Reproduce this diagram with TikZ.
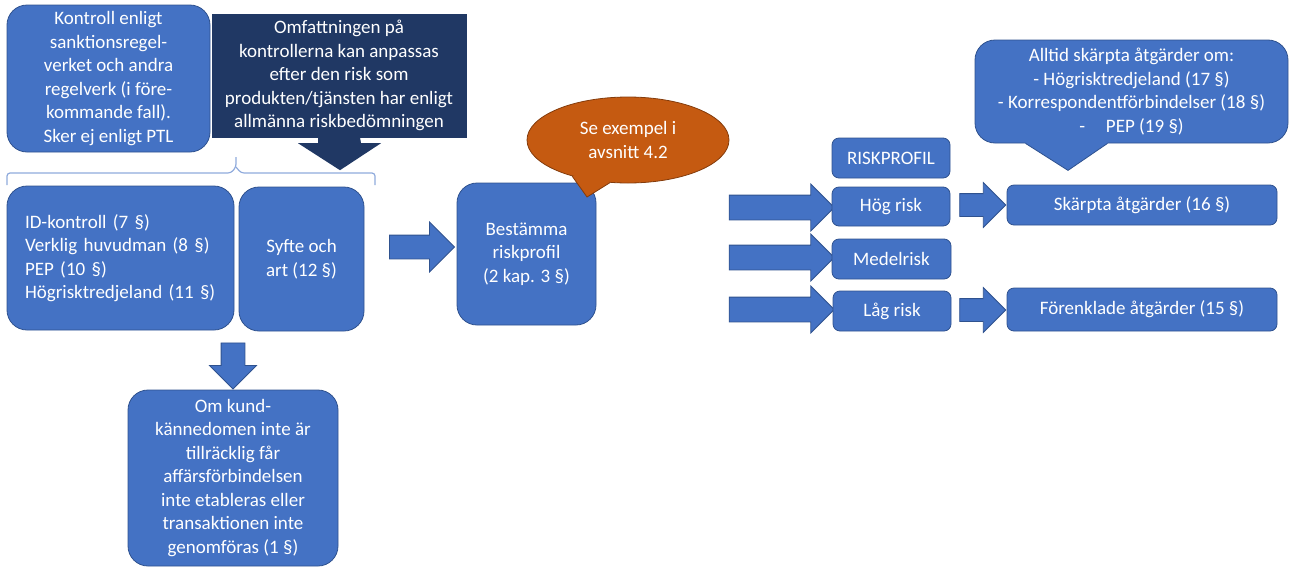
\documentclass[tikz,border=0pt]{standalone}
\usepackage{fontspec}
\setmainfont{Carlito}
\usetikzlibrary{shapes.geometric,shapes.arrows,calc}

\definecolor{boxblue}{HTML}{4472C4}
\definecolor{boxline}{HTML}{2F528F}
\definecolor{navy}{HTML}{203864}
\definecolor{rust}{HTML}{C55A11}
\definecolor{rustline}{HTML}{843C0C}
\definecolor{bracecol}{HTML}{8FAADC}

\tikzset{
  box/.style={draw=boxline, line width=0.8pt, fill=boxblue, text=white,
    rounded corners=20pt, align=center, inner sep=0pt},
  flatbox/.style={box, rounded corners=7pt},
  barrow/.style args={#1/#2/#3}{single arrow, draw=boxline, line width=0.8pt,
    fill=boxblue, inner xsep=0pt, single arrow head indent=0pt,
    minimum height=#1, inner ysep=#2, single arrow head extend=#3},
}

\begin{document}
\begin{tikzpicture}[x=1pt, y=-1pt, font=\fontsize{19}{23.5}\selectfont]
  \useasboundingbox (0,0) rectangle (1292,568);

  % left column
  \node[box, minimum width=203pt, minimum height=147pt] (kontroll) at (108.5,78.5)
    {Kontroll enligt\\sanktionsregel-\\verket och andra\\regelverk (i före-\\kommande fall).\\Sker ej enligt PTL};
  \node[draw=navy, fill=navy, text=white, align=center, inner sep=0pt,
    minimum width=254pt, minimum height=123pt] (omfatt) at (339,75.5)
    {Omfattningen på\\kontrollerna kan anpassas\\efter den risk som\\produkten/tjänsten har enligt\\allmänna riskbedömningen};
  \fill[navy] ([xshift=-21pt]omfatt.south) -- ++(0,6) -- ++(-20,0)
    -- ($(omfatt.south)+(1,33)$) -- ++(41,-27) -- ++(-20,0) -- ([xshift=21pt]omfatt.south) -- cycle;

  % brace
  \draw[bracecol, line width=1.2pt, rounded corners=3pt]
    (7,185) -- (7,173) -- (231,173) -- (236,167) -- (236,157);
  \draw[bracecol, line width=1.2pt, rounded corners=3pt]
    (375,185) -- (375,173) -- (241,173) -- (236,167);

  \node[box, align=left, text width=191pt, minimum width=227pt, minimum height=144pt] (idk) at (120.5,258)
    {ID-kontroll (7 §)\\Verklig huvudman (8 §)\\PEP (10 §)\\Högrisktredjeland (11 §)};
  \node[box, minimum width=125pt, minimum height=144pt] (syfte) at (301.5,259)
    {Syfte och\\art (12 §)};

  \node[barrow=46pt/11.5pt/11.5pt, rotate=-90] (tokund) at (233,360) {};
  \node[box, minimum width=210pt, minimum height=176pt] (kund) at (233,478)
    {Om kund-\\kännedomen inte är\\tillräcklig får\\affärsförbindelsen\\inte etableras eller\\transaktionen inte\\genomföras (1 §)};

  % riskprofil
  \node[barrow=65pt/11.5pt/13pt] (toprofil) at (416,247) {};
  \node[box, minimum width=139pt, minimum height=142pt] (bestam) at (526.5,254)
    {Bestämma\\riskprofil\\(2 kap. 3 §)};
  \node[ellipse, fill=rust, draw=rustline, line width=0.8pt, text=white, align=center,
    inner sep=0pt, minimum width=202pt, minimum height=86pt] (bubble) at (628,140)
    {Se exempel i\\avsnitt 4.2};
  \fill[rust] (bubble.213) -- (587,197) -- (bubble.247) -- ($(bubble.center)!0.8!(bubble.230)$) -- cycle;
  \draw[rustline, line width=0.8pt] (bubble.213) -- (587,197) -- (bubble.247);

  \node[barrow=105pt/12pt/11pt] (tohog) at (775.5,207.5) {};
  \node[barrow=105pt/12pt/11pt] (tomedel) at (775.5,257.5) {};
  \node[barrow=105pt/12pt/11pt] (tolag) at (775.5,309.5) {};

  \node[flatbox, minimum width=118pt, minimum height=40pt] (riskprofil) at (891,158) {RISKPROFIL};
  \node[flatbox, minimum width=118pt, minimum height=39pt] (hog) at (891,206.5) {Hög risk};
  \node[flatbox, minimum width=119pt, minimum height=40pt] (medel) at (891.5,259) {Medelrisk};
  \node[flatbox, minimum width=118pt, minimum height=40pt] (lag) at (892,311) {Låg risk};

  \node[barrow=46pt/11pt/11pt] (toskarp) at (977,205) {};
  \node[barrow=46pt/11pt/11pt] (toforenk) at (977,310) {};

  \node[flatbox, minimum width=270pt, minimum height=40pt] (skarpta) at (1142,205) {Skärpta åtgärder (16 §)};
  \node[flatbox, minimum width=270pt, minimum height=43pt] (forenk) at (1142,309.5) {Förenklade åtgärder (15 §)};

  \node[box, minimum width=313pt, minimum height=103pt] (alltid) at (1131.5,91.5)
    {Alltid skärpta åtgärder om:\\- Högrisktredjeland (17 §)\\- Korrespondentförbindelser (18 §)\\-\hspace{1.1em}PEP (19 §)};
  \fill[boxblue] ([xshift=-106pt,yshift=4pt]alltid.south) -- ([xshift=-106pt]alltid.south)
    -- ($(alltid.south)+(-63.5,27)$) -- ([xshift=-24pt]alltid.south)
    -- ([xshift=-24pt,yshift=4pt]alltid.south) -- cycle;
  \draw[boxline, line width=0.8pt] ([xshift=-106pt]alltid.south) -- ($(alltid.south)+(-63.5,27)$)
    -- ([xshift=-24pt]alltid.south);
\end{tikzpicture}
\end{document}
